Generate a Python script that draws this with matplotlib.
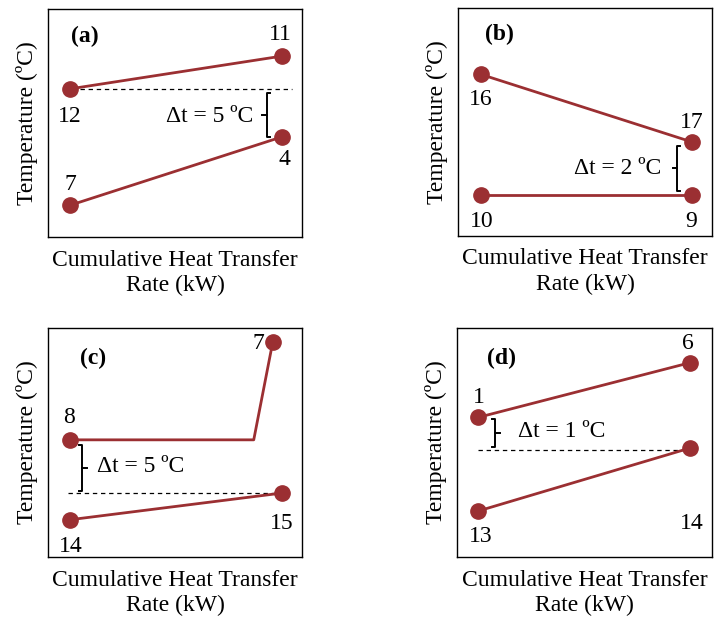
import matplotlib
matplotlib.use("Agg")
import matplotlib.pyplot as plt

plt.rcParams['font.family'] = ['Liberation Serif', 'DejaVu Serif']

RED = '#9b2f32'
FS = 17

# stream end points: x as fraction of the cumulative heat, y as temperature
a_hot_x, a_hot_t, a_hot_ids = [0.087, 0.92], [15.4, 18.8], ['12', '11']
a_cold_x, a_cold_t, a_cold_ids = [0.087, 0.92], [3.3, 10.4], ['7', '4']

b_hot_x, b_hot_t, b_hot_ids = [0.089, 0.92], [6.1, 3.55], ['16', '17']
b_cold_x, b_cold_t, b_cold_ids = [0.089, 0.92], [1.55, 1.55], ['10', '9']

c_hot_x, c_hot_t = [0.087, 0.81, 0.885], [11.0, 11.0, 20.2]
c_hot_ids = ['8', None, '7']
c_cold_x, c_cold_t, c_cold_ids = [0.087, 0.92], [3.5, 6.0], ['14', '15']

d_hot_x, d_hot_t, d_hot_ids = [0.084, 0.914], [4.55, 6.33], ['1', '6']
d_cold_x, d_cold_t, d_cold_ids = [0.084, 0.914], [1.5, 3.55], ['13', '14']

ylims = {'a': 23.7, 'b': 8.6, 'c': 21.5, 'd': 7.46}
dt_text = {'a': '5', 'b': '2', 'c': '5', 'd': '1'}

# label offsets in pixels from each marker
offsets = {
    'a': {'12': (0, -28), '11': (-1, 22), '7': (0, 21), '4': (3, -23)},
    'b': {'16': (0, -25), '17': (0, 19), '10': (1, -27), '9': (-1, -27)},
    'c': {'8': (-1, 22), '7': (-14, -2), '14': (1, -27), '15': (0, -30)},
    'd': {'1': (0, 20), '6': (-2, 19), '13': (2, -26), '14': (2, -75)},
}

fig = plt.figure(figsize=(7.15, 6.18), dpi=100)
W, H = 715, 618


def add_ax(x0, y0, x1, y1):
    return fig.add_axes([x0 / W, (H - y1) / H, (x1 - x0) / W, (y1 - y0) / H])


def draw_stream(ax, xs, ts, ids, offs):
    ax.plot(xs, ts, color=RED, lw=2.0, zorder=3, solid_capstyle='round')
    for x, t, name in zip(xs, ts, ids):
        if name is None:
            continue
        ax.plot(x, t, 'o', color=RED, ms=11, zorder=4)
        ax.annotate(name, (x, t), xytext=offs[name], textcoords='offset pixels',
                    ha='center', va='center', fontsize=FS)


def brace(ax, x, t_lo, t_hi, tip, hook):
    # bracket: vertical bar, end hooks and a centre tip
    mid = (t_lo + t_hi) / 2
    ax.plot([x + hook, x, x, x + hook], [t_hi, t_hi, t_lo, t_lo],
            color='black', lw=1.4, zorder=2)
    ax.plot([x, x + tip], [mid, mid], color='black', lw=1.4, zorder=2)


def style(ax, key, letter_pos):
    ax.set_xlim(0, 1)
    ax.set_ylim(0, ylims[key])
    ax.set_xticks([])
    ax.set_yticks([])
    for s in ax.spines.values():
        s.set_linewidth(1.0)
    ax.set_ylabel('Temperature (ºC)', fontsize=FS, labelpad=7)
    ax.set_xlabel('Cumulative Heat Transfer\nRate (kW)', fontsize=FS, labelpad=9,
                  linespacing=1.25)
    ax.text(letter_pos[0], letter_pos[1], '(%s)' % key, transform=ax.transAxes,
            fontsize=FS, fontweight='bold', ha='center', va='center')


def dashed(ax, x0, x1, t):
    ax.plot([x0, x1], [t, t], ls=(0, (3.5, 3)), color='black', lw=0.9)


# (a)
ax = add_ax(48, 9, 302, 237)
style(ax, 'a', (0.146, 0.878))
draw_stream(ax, a_hot_x, a_hot_t, a_hot_ids, offsets['a'])
draw_stream(ax, a_cold_x, a_cold_t, a_cold_ids, offsets['a'])
dashed(ax, 0.126, 0.961, a_hot_t[0])
brace(ax, 0.861, a_cold_t[1], a_hot_t[0] - 0.4, -0.02, 0.012)
ax.text(0.807, (a_hot_t[0] + a_cold_t[1]) / 2 - 0.4, 'Δt = %s ºC' % dt_text['a'],
        ha='right', va='center', fontsize=FS)

# (b)
ax = add_ax(458, 8, 712, 236)
style(ax, 'b', (0.165, 0.882))
draw_stream(ax, b_hot_x, b_hot_t, b_hot_ids, offsets['b'])
draw_stream(ax, b_cold_x, b_cold_t, b_cold_ids, offsets['b'])
brace(ax, 0.863, b_cold_t[1] + 0.15, b_hot_t[1] - 0.15, -0.016, 0.012)
ax.text(0.802, (b_hot_t[1] + b_cold_t[1]) / 2, 'Δt = %s ºC' % dt_text['b'],
        ha='right', va='center', fontsize=FS)

# (c)
ax = add_ax(48, 328, 302, 557)
style(ax, 'c', (0.178, 0.868))
draw_stream(ax, c_hot_x, c_hot_t, c_hot_ids, offsets['c'])
draw_stream(ax, c_cold_x, c_cold_t, c_cold_ids, offsets['c'])
dashed(ax, 0.079, 0.92, c_cold_t[1])
brace(ax, 0.133, c_cold_t[1] + 0.2, c_hot_t[0] - 0.5, 0.022, -0.012)
ax.text(0.192, (c_hot_t[0] + c_cold_t[1]) / 2, 'Δt = %s ºC' % dt_text['c'],
        ha='left', va='center', fontsize=FS)

# (d)
ax = add_ax(457, 328, 712, 557)
style(ax, 'd', (0.175, 0.868))
draw_stream(ax, d_hot_x, d_hot_t, d_hot_ids, offsets['d'])
draw_stream(ax, d_cold_x, d_cold_t, d_cold_ids, offsets['d'])
dashed(ax, 0.084, 0.914, d_cold_t[1] - 0.08)
brace(ax, 0.149, d_cold_t[1] + 0.03, d_hot_t[0] - 0.07, 0.02, -0.012)
ax.text(0.240, (d_hot_t[0] + d_cold_t[1]) / 2 + 0.05, 'Δt = %s ºC' % dt_text['d'],
        ha='left', va='center', fontsize=FS)

fig.savefig('out.png', dpi=100)
